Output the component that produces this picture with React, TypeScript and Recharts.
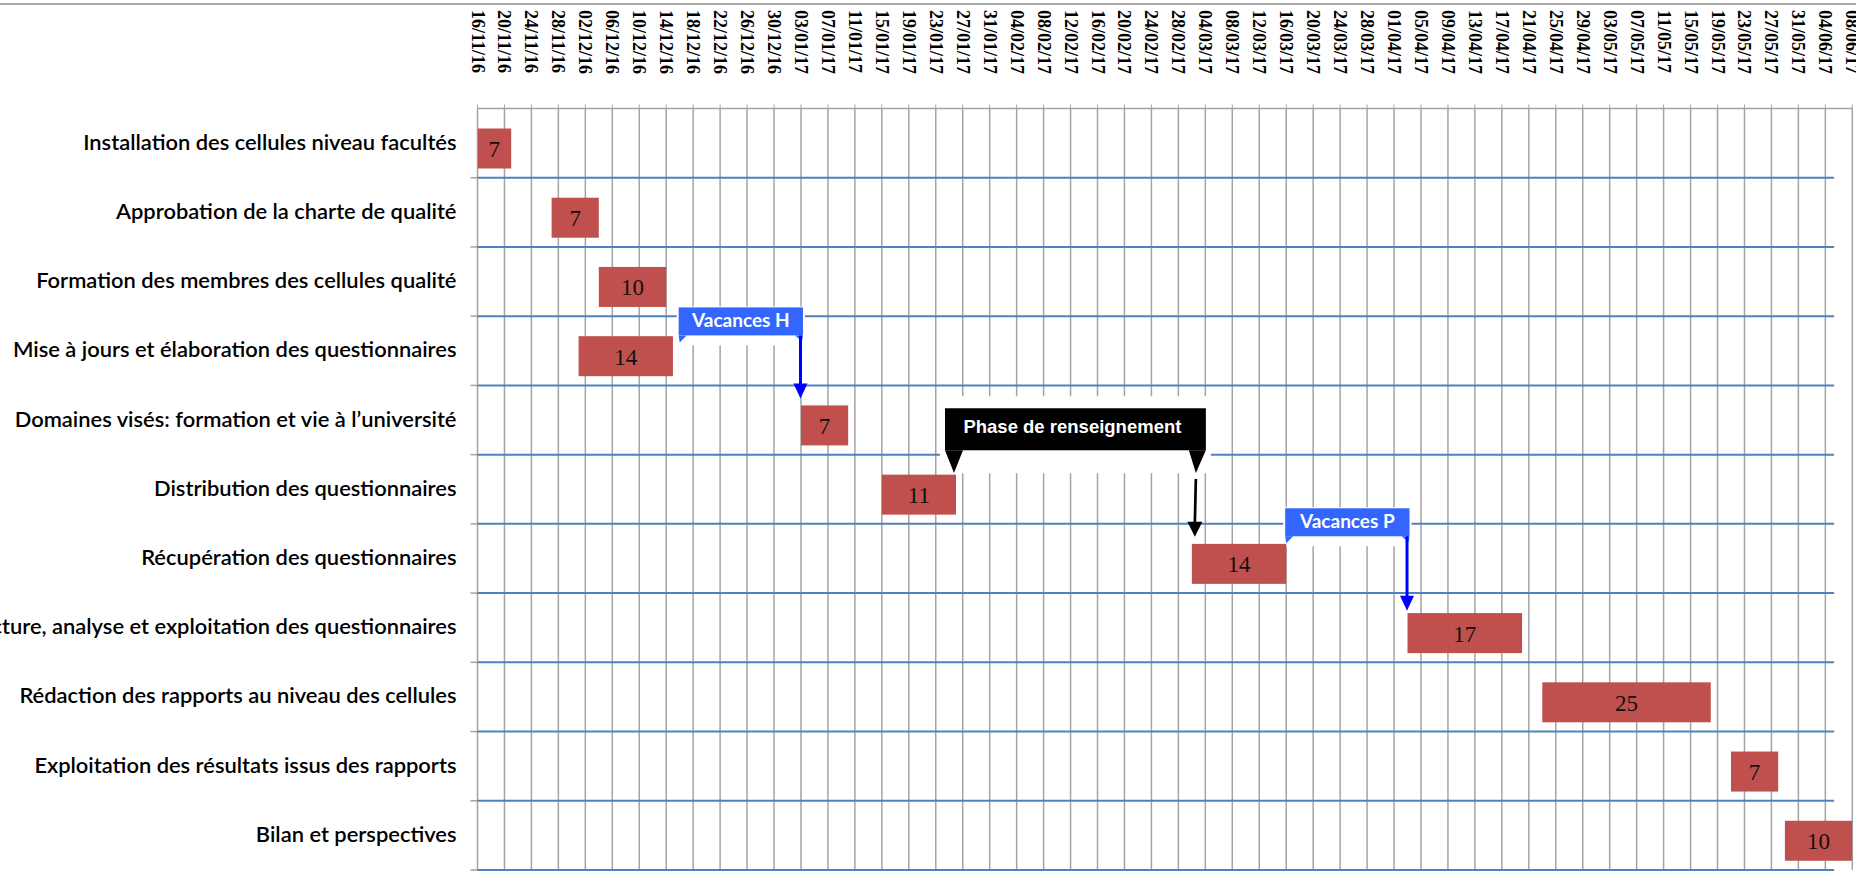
import React from "react";
import { BarChart, Bar, XAxis, YAxis, CartesianGrid, ReferenceArea } from "recharts";

// tick labels on the time axis (every 4 days)
const dateLabels = [
  "16/11/16", "20/11/16", "24/11/16", "28/11/16", "02/12/16", "06/12/16", "10/12/16",
  "14/12/16", "18/12/16", "22/12/16", "26/12/16", "30/12/16", "03/01/17", "07/01/17",
  "11/01/17", "15/01/17", "19/01/17", "23/01/17", "27/01/17", "31/01/17", "04/02/17",
  "08/02/17", "12/02/17", "16/02/17", "20/02/17", "24/02/17", "28/02/17", "04/03/17",
  "08/03/17", "12/03/17", "16/03/17", "20/03/17", "24/03/17", "28/03/17", "01/04/17",
  "05/04/17", "09/04/17", "13/04/17", "17/04/17", "21/04/17", "25/04/17", "29/04/17",
  "03/05/17", "07/05/17", "11/05/17", "15/05/17", "19/05/17", "23/05/17", "27/05/17",
  "31/05/17", "04/06/17", "08/06/17",
];

const taskNames = [
  "Installation des cellules niveau facultés",
  "Approbation de la charte de qualité",
  "Formation des membres des cellules qualité",
  "Mise à jours et élaboration des questionnaires",
  "Domaines visés: formation et vie à l’université",
  "Distribution des questionnaires",
  "Récupération des questionnaires",
  "Lecture, analyse et exploitation des questionnaires",
  "Rédaction des rapports au niveau des cellules",
  "Exploitation des résultats issus des rapports",
  "Bilan et perspectives",
];
const taskStarts = [
  "14/11/16", "27/11/16", "04/12/16", "01/12/16", "03/01/17", "15/01/17",
  "02/03/17", "03/04/17", "23/04/17", "21/05/17", "29/05/17",
];
const taskDurations = [7, 7, 10, 14, 7, 11, 14, 17, 25, 7, 10];

// callouts above the bars
const calloutLabels = ["Vacances H", "Phase de renseignement", "Vacances P"];
const calloutFrom = ["16/12/16", "26/01/17", "16/03/17"];
const calloutTo = ["03/01/17", "02/03/17", "03/04/17"];
const calloutTarget = [4, 6, 7]; // row the arrow points to
const calloutKind = ["holiday", "phase", "holiday"];

// layout of the callouts relative to the target row (px)
const calloutLayout = [
  { lift: 78, drop: 13 },
  { lift: 115.6, drop: 13 },
  { lift: 84.8, drop: 17.6 },
];

const W = 1856;
const H = 874;
const ROW_LINE_END_DAY = 201.3;
const GRID = "#a3a3a3";
const ROW_LINE = "#4f81bd";

const parseDate = (s: string) => {
  const [d, m, y] = s.split("/").map(Number);
  return Date.UTC(2000 + y, m - 1, d);
};
const origin = parseDate(dateLabels[0]);
const toDay = (s: string) => Math.round((parseDate(s) - origin) / 86400000);

const tickDays = dateLabels.map(toDay);
const labelByDay = new Map(tickDays.map((d, i) => [d, dateLabels[i]]));

const rows = taskNames.map((task, i) => ({
  task,
  range: [toDay(taskStarts[i]), toDay(taskStarts[i]) + taskDurations[i]],
  days: taskDurations[i],
}));

const DateTick = (props: any) => {
  const { x, payload } = props;
  return (
    <text
      x={x}
      y={10}
      transform={`rotate(90 ${x} 10)`}
      dominantBaseline="central"
      fontFamily="'Liberation Serif', serif"
      fontWeight={700}
      fontSize={18}
      fill="#000"
    >
      {labelByDay.get(payload.value)}
    </text>
  );
};

const TaskTick = (props: any) => (
  <text
    x={props.x}
    y={props.y}
    dy={6.5}
    textAnchor="end"
    fontFamily="Lato, sans-serif"
    fontWeight={600}
    fontSize={21.9}
    fill="#000"
  >
    {props.payload.value}
  </text>
);

const TaskBar = (props: any) => {
  const { x, y, width, height, background, payload } = props;
  const left = Math.max(x, background?.x ?? x);
  const right = x + width;
  const top = y + 5;
  return (
    <g>
      <rect x={left} y={top} width={right - left} height={height} fill="#c0504d" />
      <text
        x={(left + right) / 2}
        y={top + height / 2 + 1}
        textAnchor="middle"
        dominantBaseline="central"
        fontFamily="'Liberation Serif', serif"
        fontSize={23}
        fill="#111"
      >
        {payload.days}
      </text>
    </g>
  );
};

const RowLine = (props: any) => {
  const { x, y, width, height } = props;
  const by = y + height;
  return (
    <g>
      <line x1={x - 7} y1={by} x2={x} y2={by} stroke={GRID} strokeWidth={1.5} />
      <line x1={x} y1={by} x2={x + width} y2={by} stroke={ROW_LINE} strokeWidth={2} />
    </g>
  );
};

const HolidayCallout = ({ x, y, width, label, lift, drop }: any) => {
  const right = x + width;
  const boxL = x - 1;
  const boxR = right + 2;
  const boxT = y - lift;
  const boxH = 28;
  const boxB = boxT + boxH;
  const tip = y + drop;
  const ax = right - 0.5;
  return (
    <g>
      <rect x={boxL - 2} y={boxT - 1} width={boxR - boxL + 4} height={boxH + 11} fill="#fff" />
      <rect x={boxL} y={boxT} width={boxR - boxL} height={boxH} fill="#3366ff" />
      <polygon points={`${boxL},${boxB} ${boxL + 8},${boxB} ${boxL + 1},${boxB + 7}`} fill="#3366ff" />
      <polygon points={`${boxR - 8},${boxB} ${boxR},${boxB} ${boxR - 1},${boxB + 6}`} fill="#3366ff" />
      <text
        x={(boxL + boxR) / 2}
        y={boxT + 19.5}
        textAnchor="middle"
        fill="#fff"
        fontFamily="Lato, sans-serif"
        fontWeight={700}
        fontSize={19}
      >
        {label}
      </text>
      <line x1={ax} y1={boxB} x2={ax} y2={tip - 14} stroke="#0000ff" strokeWidth={3} />
      <polygon points={`${ax - 7},${tip - 15} ${ax + 7},${tip - 15} ${ax},${tip}`} fill="#0000ff" />
    </g>
  );
};

const PhaseCallout = ({ x, y, width, label, lift, drop }: any) => {
  const right = x + width;
  const boxL = x - 11;
  const boxR = right + 14;
  const boxT = y - lift;
  const boxH = 42;
  const boxB = boxT + boxH;
  const tailTip = boxB + 22.7;
  const tip = y + drop;
  return (
    <g>
      <rect x={boxL - 5} y={boxT - 12} width={boxR - boxL + 10} height={boxH + 35} fill="#fff" />
      <rect x={boxL} y={boxT} width={boxR - boxL} height={boxH} fill="#000" />
      <polygon points={`${boxL},${boxB} ${boxL + 18},${boxB} ${x - 2},${tailTip}`} fill="#000" />
      <polygon points={`${boxR - 17},${boxB} ${boxR},${boxB} ${right + 4},${tailTip}`} fill="#000" />
      <text
        x={(boxL + boxR) / 2 - 3}
        y={boxT + 25}
        textAnchor="middle"
        fill="#fff"
        fontFamily="'Liberation Sans', Arial, sans-serif"
        fontWeight={700}
        fontSize={18.5}
      >
        {label}
      </text>
      <line x1={right + 4} y1={tailTip + 6} x2={right + 3} y2={tip - 14} stroke="#000" strokeWidth={2.7} />
      <polygon points={`${right - 4.5},${tip - 15} ${right + 10.5},${tip - 15} ${right + 3},${tip}`} fill="#000" />
    </g>
  );
};

export default function App() {
  return (
    <div style={{ position: "absolute", left: 0, top: 0, width: W, height: H, background: "#fff", overflow: "hidden" }}>
      <BarChart
        width={W}
        height={H}
        data={rows}
        layout="vertical"
        margin={{ top: 0, right: 3.7, bottom: 4, left: 0 }}
      >
        <CartesianGrid horizontal={false} stroke={GRID} strokeWidth={1.5} />
        <XAxis
          type="number"
          orientation="top"
          domain={[tickDays[0], tickDays[tickDays.length - 1]]}
          allowDataOverflow
          ticks={tickDays}
          interval={0}
          height={108.5}
          tick={<DateTick />}
          tickSize={4}
          axisLine={{ stroke: GRID, strokeWidth: 1.5 }}
          tickLine={{ stroke: GRID }}
        />
        <YAxis
          type="category"
          dataKey="task"
          width={477.5}
          axisLine={false}
          tickLine={false}
          tickSize={0}
          tickMargin={21}
          interval={0}
          tick={<TaskTick />}
        />
        {rows.map((r) => (
          <ReferenceArea
            key={"row-" + r.task}
            x1={0}
            x2={ROW_LINE_END_DAY}
            y1={r.task}
            y2={r.task}
            ifOverflow="visible"
            shape={(p: any) => <RowLine {...p} />}
          />
        ))}
        <Bar dataKey="range" barSize={40} isAnimationActive={false} shape={(p: any) => <TaskBar {...p} />} />
        {calloutLabels.map((label, i) => (
          <ReferenceArea
            key={"callout-" + label}
            x1={toDay(calloutFrom[i])}
            x2={toDay(calloutTo[i])}
            y1={taskNames[calloutTarget[i]]}
            y2={taskNames[calloutTarget[i]]}
            ifOverflow="visible"
            shape={(p: any) =>
              calloutKind[i] === "phase" ? (
                <PhaseCallout {...p} label={label} {...calloutLayout[i]} />
              ) : (
                <HolidayCallout {...p} label={label} {...calloutLayout[i]} />
              )
            }
          />
        ))}
      </BarChart>
      <div style={{ position: "absolute", left: 0, top: 3, width: W, height: 2, background: "#a8a8a8" }} />
    </div>
  );
}
